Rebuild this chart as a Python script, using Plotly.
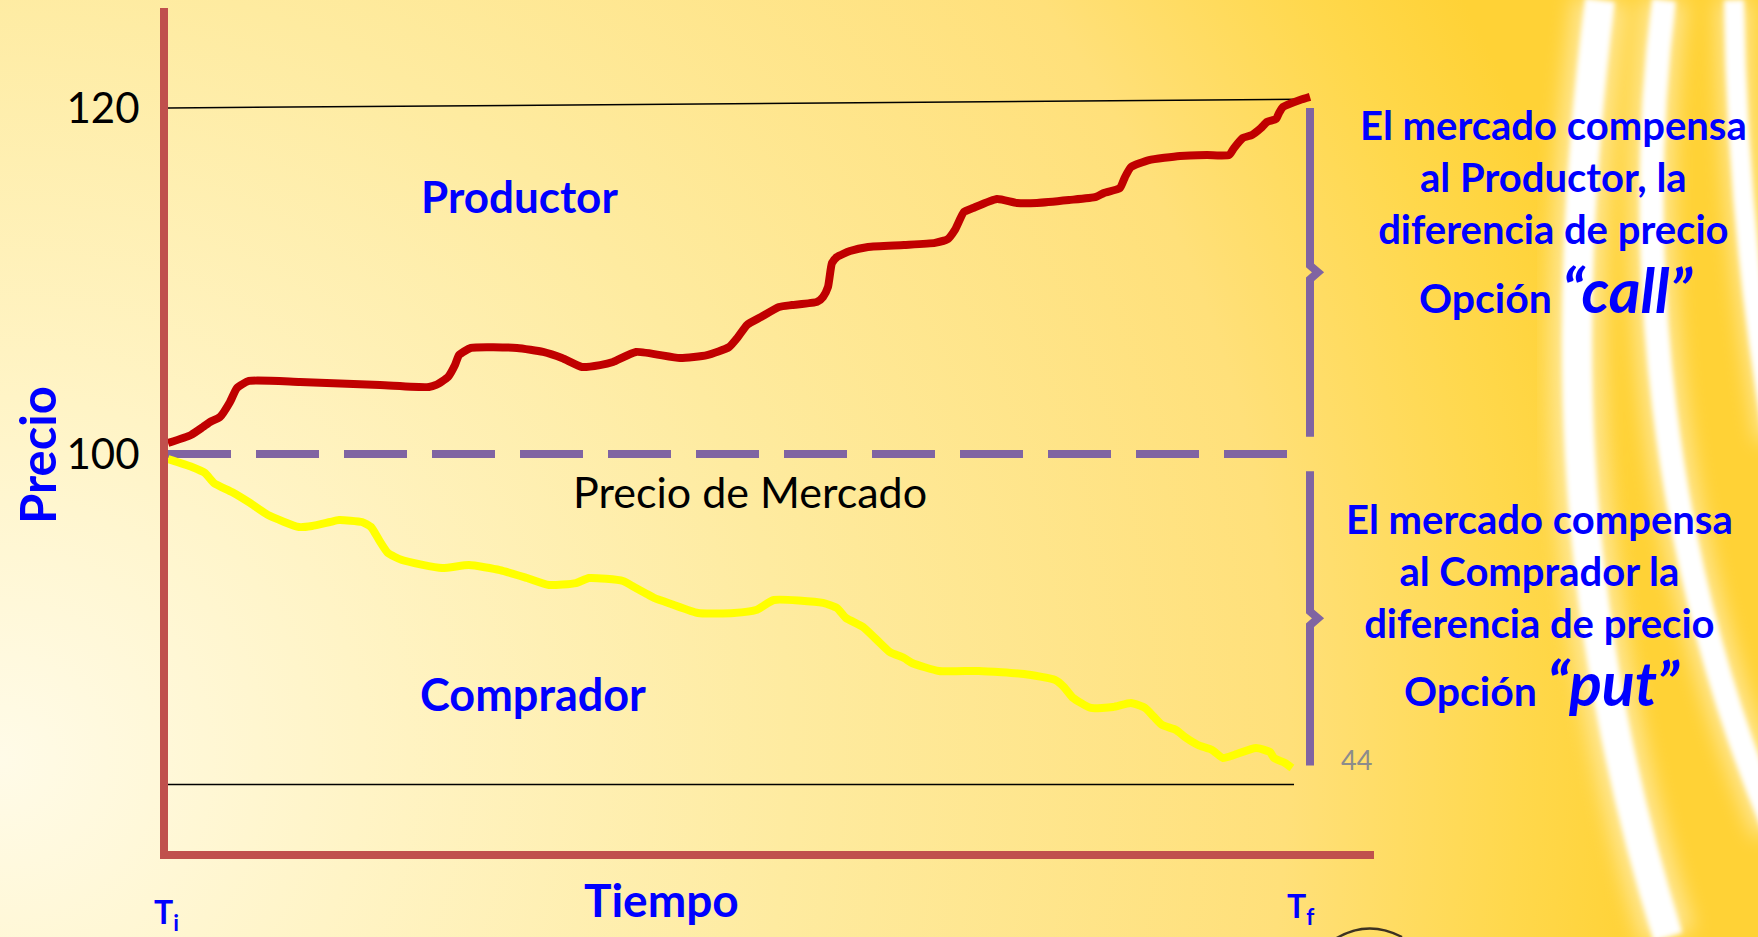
import base64
import plotly.graph_objects as go

# --- values -----------------------------------------------------------------
# producer price path (red) : time (Ti=0 .. Tf=100) vs price
t_prod = [0.0, 2.01, 3.06, 3.68, 4.55, 5.43, 6.04, 7.09, 11.56, 18.56, 22.85, 23.47,
          24.52, 25.13, 25.48, 26.53, 30.56, 32.84, 34.50, 36.25, 37.83, 38.97, 40.98,
          44.83, 47.20, 49.12, 49.91, 50.70, 51.93, 53.50, 54.64, 56.83, 57.36, 57.79,
          58.14, 58.58, 59.72, 61.30, 64.45, 67.16, 68.30, 68.91, 69.70, 70.49, 72.59,
          74.34, 76.09, 78.90, 81.26, 81.96, 83.36, 83.80, 84.33, 85.90, 88.62, 90.98,
          92.91, 93.35, 94.13, 94.92, 95.71, 96.23, 97.02, 97.29, 97.64, 99.12, 100.0]
p_prod = [100.64, 101.10, 101.56, 101.85, 102.14, 103.01, 103.82, 104.22, 104.16, 103.99,
          103.87, 103.99, 104.45, 105.14, 105.72, 106.13, 106.13, 105.90, 105.55, 105.03,
          105.14, 105.32, 105.90, 105.55, 105.72, 106.18, 106.76, 107.46, 107.92, 108.50,
          108.61, 108.79, 109.08, 109.65, 111.04, 111.39, 111.73, 111.97, 112.08, 112.20,
          112.43, 112.95, 113.99, 114.22, 114.74, 114.51, 114.51, 114.68, 114.86, 115.09,
          115.38, 116.01, 116.59, 116.99, 117.23, 117.28, 117.28, 117.69, 118.27, 118.44,
          118.84, 119.19, 119.36, 119.71, 120.06, 120.46, 120.64]

# buyer price path (yellow)
t_comp = [0.0, 2.10, 3.24, 4.03, 5.60, 7.18, 8.76, 11.47, 12.61, 14.19, 14.97, 16.99,
          17.78, 18.48, 19.26, 20.49, 23.99, 26.36, 29.07, 31.44, 33.36, 35.73, 36.87,
          39.84, 40.81, 41.77, 42.56, 44.05, 46.41, 49.56, 51.49, 53.06, 57.36, 58.58,
          59.37, 60.86, 62.08, 63.22, 64.45, 65.15, 67.51, 71.02, 74.96, 77.67, 78.46,
          79.25, 80.82, 82.75, 84.33, 85.55, 86.34, 87.04, 88.27, 89.05, 90.19, 91.42,
          92.38, 93.35, 95.27, 96.50, 96.85, 97.81, 98.42]
p_comp = [99.71, 99.25, 98.90, 98.32, 97.80, 97.17, 96.47, 95.78, 95.84, 96.07, 96.18,
          96.07, 95.78, 95.03, 94.28, 93.87, 93.41, 93.58, 93.29, 92.83, 92.43, 92.54,
          92.83, 92.66, 92.31, 91.97, 91.68, 91.33, 90.81, 90.81, 90.98, 91.56, 91.39,
          91.10, 90.52, 90.00, 89.25, 88.55, 88.21, 87.92, 87.46, 87.46, 87.28, 86.94,
          86.53, 85.90, 85.32, 85.38, 85.61, 85.32, 84.80, 84.34, 84.05, 83.64, 83.18,
          82.89, 82.43, 82.60, 83.01, 82.77, 82.43, 82.14, 81.85]

market_price = 100
t_market = [0, 98]
t_ceiling = [0, 99]
p_ceiling = [120.0, 120.5]
t_floor = [0, 98.6]
p_floor = [80.9, 80.9]
call_band = [101.0, 120.0]
put_band = [82.0, 99.0]
t_end = 100
y_ticks = [100, 120]

# --- page geometry ----------------------------------------------------------
W, H = 1758, 937
L, R, T, B = 168, 1374, 8, 851
X_RANGE = [0, (R - L) / 11.42]
Y_RANGE = [100 - (B - 454) / 17.3, 100 + (454 - T) / 17.3]

BLUE = '#0000FF'
AXIS_RED = '#C0504D'
PURPLE = '#8064A2'
FONT = 'Lato'


def paper(x, y):
    return (x - L) / (R - L), (B - y) / (B - T)


# slide background: warm yellow gradient with white arcs on the right
bg_svg = f"""<svg xmlns='http://www.w3.org/2000/svg' width='{W}' height='{H}' viewBox='0 0 {W} {H}'>
<defs>
<radialGradient id='g' cx='0' cy='760' r='1650' gradientUnits='userSpaceOnUse'>
<stop offset='0' stop-color='#FFFBE8'/>
<stop offset='0.22' stop-color='#FFF4C6'/>
<stop offset='0.48' stop-color='#FEEBA0'/>
<stop offset='0.78' stop-color='#FFE07A'/>
<stop offset='0.92' stop-color='#FFD84C'/>
<stop offset='1' stop-color='#FFD236'/>
</radialGradient>
<filter id='b' x='-20%' y='-20%' width='140%' height='140%'><feGaussianBlur stdDeviation='2.5'/></filter>
<filter id='b2' x='-20%' y='-20%' width='140%' height='140%'><feGaussianBlur stdDeviation='10'/></filter>
</defs>
<rect width='{W}' height='{H}' fill='url(#g)'/>
<g fill='none' stroke='white' opacity='0.45' filter='url(#b2)'>
<path d='M1600,0 C1562,300 1562,600 1668,937' stroke-width='54'/>
<path d='M1664,0 C1632,250 1660,560 1775,830' stroke-width='44'/>
<path d='M1734,0 C1736,150 1750,300 1774,440' stroke-width='34'/>
</g>
<g fill='none' stroke='white' filter='url(#b)'>
<path d='M1600,0 C1562,300 1562,600 1668,937' stroke-width='30'/>
<path d='M1664,0 C1632,250 1660,560 1775,830' stroke-width='24'/>
<path d='M1734,0 C1736,150 1750,300 1774,440' stroke-width='20'/>
</g>
<path d='M1332,941 Q1366,918 1402,937' fill='none' stroke='#3d3222' stroke-width='2.5'/>
</svg>"""
bg_uri = 'data:image/svg+xml;base64,' + base64.b64encode(bg_svg.encode()).decode()

fig = go.Figure()

# reference levels (thin black)
fig.add_scatter(x=t_ceiling, y=p_ceiling, mode='lines', line=dict(color='black', width=1.5))
fig.add_scatter(x=t_floor, y=p_floor, mode='lines', line=dict(color='black', width=1.5))

# market price
fig.add_scatter(x=t_market, y=[market_price] * len(t_market), mode='lines',
                line=dict(color=PURPLE, width=8, dash='63px,25px'))

# price paths
fig.add_scatter(x=t_comp, y=p_comp, mode='lines',
                line=dict(color='#FFFF00', width=8, shape='spline', smoothing=0.5))
fig.add_scatter(x=t_prod, y=p_prod, mode='lines',
                line=dict(color='#C00000', width=8, shape='spline', smoothing=0.5))

# braces at Tf
for lo, hi in (call_band, put_band):
    mid = (lo + hi) / 2
    fig.add_scatter(x=[t_end, t_end, t_end + 0.7, t_end, t_end],
                    y=[hi, mid + 0.4, mid, mid - 0.4, lo],
                    mode='lines', line=dict(color=PURPLE, width=8))

fig.update_traces(hoverinfo='skip', showlegend=False)


def label(text, x, y, size, color=BLUE, **kw):
    px, py = paper(x, y)
    return dict(text=text, x=px, y=py, xref='paper', yref='paper', showarrow=False,
                xanchor='center', yanchor='middle',
                font=dict(family=FONT, size=size, color=color), **kw)


big = "font-size:61px"
annotations = [
    label('<b>Productor</b>', 519, 196, 44),
    label('<b>Comprador</b>', 533, 694, 45),
    label('Precio de Mercado', 750, 491, 43, color='black'),
    label('<b>Precio</b>', 37, 455, 49, textangle=-90),
    label('<b>Tiempo</b>', 661, 900, 46),
    label('<b>T<sub>i</sub></b>', 166, 914, 32),
    label('<b>T<sub>f</sub></b>', 1300, 908, 32),
    label('44', 1356, 759, 27, color='#8C8C8C'),
    label('<b>El mercado compensa<br>al Productor, la<br>diferencia de precio</b>',
          1553, 177, 40, align='center'),
    label(f'<b>Opción <span style="{big}"><i>“call”</i></span></b>', 1556, 289, 41),
    label('<b>El mercado compensa<br>al Comprador la<br>diferencia de precio</b>',
          1539, 571, 40, align='center'),
    label(f'<b>Opción <span style="{big}"><i>“put”</i></span></b>', 1542, 682, 41),
]

px0, py0 = paper(0, 0)
fig.update_layout(
    width=W, height=H,
    margin=dict(l=L, r=W - R, t=T, b=H - B, pad=0),
    paper_bgcolor='#FFF1B8',
    plot_bgcolor='rgba(0,0,0,0)',
    images=[dict(source=bg_uri, xref='paper', yref='paper', x=px0, y=py0,
                 sizex=W / (R - L), sizey=H / (B - T), xanchor='left', yanchor='top',
                 sizing='stretch', layer='below')],
    xaxis=dict(range=X_RANGE, showgrid=False, zeroline=False, showticklabels=False,
               showline=True, linecolor=AXIS_RED, linewidth=8, fixedrange=True),
    yaxis=dict(range=Y_RANGE, showgrid=False, zeroline=False, showline=True,
               linecolor=AXIS_RED, linewidth=8, tickvals=y_ticks,
               ticktext=[str(v) for v in y_ticks], ticks='', ticklabelstandoff=12,
               tickfont=dict(family=FONT, size=42, color='black'), fixedrange=True),
    annotations=annotations,
    showlegend=False,
)

# page body has a default 8px margin; drop it so the slide fills the window
fig.write_html("out.html", config={'displayModeBar': False},
               post_script="document.body.style.margin='0';")
